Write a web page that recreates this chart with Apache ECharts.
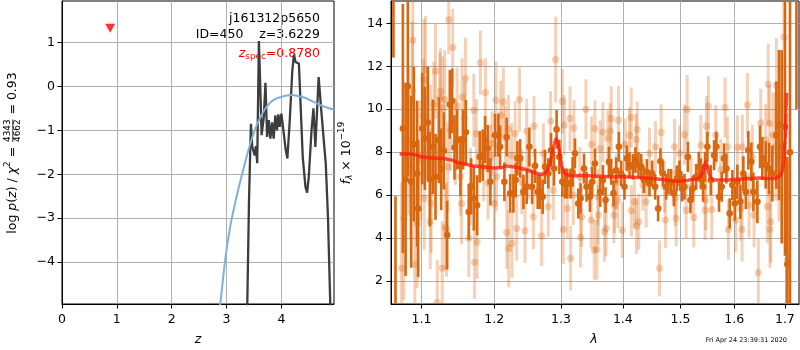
<!DOCTYPE html>
<html>
<head>
<meta charset="utf-8">
<script src="https://cdn.jsdelivr.net/npm/echarts@6/dist/echarts.min.js"></script>
<style>
  html, body { margin: 0; padding: 0; background: #ffffff; }
  #chart { width: 800px; height: 350px; }
</style>
</head>
<body>
<div id="chart"></div>
<script>
// ---- Redshift probability panel ----
const zTicks = [0, 1, 2, 3, 4];
const logpTicks = [-4, -3, -2, -1, 0, 1];
const priorZ    = [2.85, 2.90, 2.95, 3.00, 3.05, 3.10, 3.20, 3.30, 3.40, 3.50, 3.60, 3.70, 3.80, 3.90, 4.00, 4.10, 4.20, 4.30, 4.40, 4.50, 4.60, 4.70, 4.80, 4.90, 4.96];
const priorLogP = [-5.35, -4.80, -4.22, -3.72, -3.32, -2.98, -2.42, -1.92, -1.45, -1.05, -0.75, -0.52, -0.37, -0.28, -0.24, -0.21, -0.20, -0.22, -0.25, -0.30, -0.36, -0.42, -0.47, -0.51, -0.53];
const pzZ    = [3.37, 3.41, 3.445, 3.47, 3.50, 3.515, 3.535, 3.56, 3.59, 3.605, 3.64, 3.68, 3.71, 3.74, 3.77, 3.80, 3.83, 3.86, 3.89, 3.92, 3.945, 3.97, 4.00, 4.03, 4.08, 4.11, 4.15, 4.20, 4.23, 4.26, 4.29, 4.32, 4.35, 4.39, 4.44, 4.47, 4.50, 4.55, 4.585, 4.62, 4.68, 4.73, 4.76, 4.81, 4.85, 4.89, 4.92];
const pzLogP = [-5.6, -2.6, -0.85, -1.38, -1.34, -1.57, -1.36, -1.75, 1.03, 0.45, -1.11, -0.70, 0.08, -1.15, -0.77, -1.19, -0.82, -1.19, -0.66, -1.00, -0.64, -0.92, -0.62, -0.92, -1.45, -1.64, -0.85, 0.36, 0.72, 0.55, 0.59, 0.52, -0.39, -1.61, -2.29, -2.42, -2.06, -1.00, -0.50, -1.38, 0.21, -0.58, -0.62, -1.76, -2.97, -4.86, -7.0];
const zSpec = 0.878;
const zSpecMarkerLogP = 1.32;

// ---- Spectrum panel ----
const lambdaTicks = [1.1, 1.2, 1.3, 1.4, 1.5, 1.6, 1.7];
const fluxTicks = [2, 4, 6, 8, 10, 12, 14];
// [lambda, f_lambda, error]
const lightPoints = [
  [1.1365,14.17,1.6],[1.0886,13.21,3.0],[1.1419,12.87,1.8],[1.1804,12.17,1.5],[1.1053,11.85,2.5],[1.1186,11.77,2.2],
  [1.1595,11.43,1.9],[1.1030,11.40,2.8],[1.0880,10.88,3.2],[1.1253,10.84,2.0],[1.1875,10.78,1.6],[1.1244,10.54,2.1],
  [1.1311,10.45,2.3],[1.1164,10.22,2.0],[1.1479,10.14,1.8],[1.1284,10.06,2.4],[1.1025,9.72,2.6],[1.1580,9.57,1.7],
  [1.1119,8.94,2.2],[1.1388,9.02,1.9],[1.1456,8.48,2.0],[1.1748,8.87,1.6],[1.1970,8.40,1.5],[1.0834,8.56,3.5],
  [1.1351,7.32,2.1],[1.1913,6.57,1.7],[1.1035,5.85,2.4],[1.1128,5.61,2.3],[1.1539,5.61,1.9],[1.0770,4.92,3.8],
  [1.1115,4.76,2.2],[1.0943,4.68,3.0],[1.1315,4.50,2.0],[1.1334,4.40,2.2],[1.1641,3.99,1.8],[1.1757,3.80,1.7],
  [1.0740,2.59,4.0],[1.0912,2.78,3.2],[1.1276,2.59,2.2],[1.1720,2.87,1.7],[1.1209,0.99,2.0],[1.1525,6.85,1.8],
  [1.1664,6.39,1.8],[1.1850,7.32,1.6],[1.1946,7.78,1.5],[1.0987,7.63,2.8],[1.0856,7.32,3.4],[1.1711,9.95,1.7],
  [1.1548,10.57,1.8],
  [1.2917,12.31,2.0],[1.2027,10.42,1.8],[1.2133,10.34,1.6],[1.2369,10.45,1.5],[1.3021,10.37,1.5],[1.2094,9.72,1.6],
  [1.2588,9.21,1.4],[1.2477,8.98,1.5],[1.2207,9.07,1.6],[1.2305,8.87,1.5],[1.2840,9.44,1.4],[1.3141,9.57,1.5],
  [1.3052,9.26,1.4],[1.3204,9.13,1.3],[1.3395,10.00,1.4],[1.3540,9.10,1.3],[1.3485,8.37,1.3],[1.2163,8.64,1.5],
  [1.2255,7.86,1.5],[1.2729,7.94,1.4],[1.2502,7.32,1.5],[1.2035,6.85,1.6],[1.2404,6.62,1.5],[1.3299,6.85,1.4],
  [1.2881,6.23,1.4],[1.3193,6.00,1.4],[1.2003,5.61,1.7],[1.2577,4.99,1.5],[1.3037,4.40,1.6],[1.2329,4.45,1.5],
  [1.2452,4.34,1.5],[1.2182,4.27,1.7],[1.2702,4.09,1.4],[1.3309,4.03,1.4],[1.2260,3.75,1.6],[1.2212,3.52,1.8],
  [1.3151,3.06,1.5],[1.3529,3.44,1.4],[1.3099,5.38,1.4],[1.3325,4.99,1.4],[1.2804,5.46,1.4],[1.3480,4.84,1.3],
  [1.5121,9.99,1.6],[1.3807,9.57,1.5],[1.3927,9.49,1.6],[1.4141,9.61,1.4],[1.3670,8.94,1.4],[1.3790,8.98,1.3],
  [1.4243,9.06,1.3],[1.4657,8.92,1.3],[1.5073,8.82,1.4],[1.4112,8.79,1.3],[1.4226,8.59,1.2],[1.3752,8.64,1.3],
  [1.4040,8.37,1.2],[1.4558,8.25,1.2],[1.4894,8.25,1.3],[1.3626,8.17,1.3],[1.4454,7.94,1.2],[1.4983,7.94,1.3],
  [1.3890,6.62,1.3],[1.4340,6.47,1.2],[1.4716,6.39,1.2],[1.5194,6.39,1.3],[1.3589,5.92,1.3],[1.4906,5.85,1.3],
  [1.4197,5.69,1.2],[1.4397,5.69,1.2],[1.3918,5.77,1.3],[1.3862,5.53,1.3],[1.3851,5.07,1.3],[1.4145,5.27,1.2],
  [1.5103,5.30,1.3],[1.4924,4.92,1.3],[1.5243,4.96,1.4],[1.3595,5.07,1.4],[1.4734,4.84,1.3],[1.4271,4.76,1.3],
  [1.3723,4.45,1.3],[1.4230,4.56,1.3],[1.3695,4.29,1.4],[1.3990,4.37,1.3],[1.4629,2.59,1.3],[1.3573,3.47,1.4],
  [1.6253,10.19,1.5],[1.6665,11.16,1.9],[1.6827,11.12,2.2],[1.5512,10.14,1.4],[1.5824,10.08,1.4],[1.5475,9.21,1.4],
  [1.6515,9.36,1.6],[1.6693,9.33,1.8],[1.5649,8.79,1.4],[1.6614,8.56,1.7],[1.5868,8.25,1.4],[1.6156,8.25,1.5],
  [1.6059,8.22,1.5],[1.6760,8.79,2.0],[1.5371,8.33,1.4],[1.6351,7.78,1.5],[1.5743,7.20,1.4],[1.5462,5.77,1.4],
  [1.5574,5.33,1.4],[1.5450,5.30,1.4],[1.6286,5.53,1.5],[1.6646,5.46,1.7],[1.6125,5.38,1.5],[1.6383,5.07,1.5],
  [1.6029,4.84,1.5],[1.6151,4.40,1.5],[1.5887,4.40,1.4],[1.6699,4.40,1.8],[1.6713,4.76,1.9],[1.6468,2.39,1.6],
  [1.6981,13.36,4.0],[1.7049,2.98,4.5],[1.6815,8.25,2.5],[1.6880,7.78,3.0]
];
const darkPoints = [
  [1.0636,18.0,5.6],[1.0662,0.5,5.45],
  [1.0757,9.10,5.8],[1.0792,6.74,4.5],[1.0821,11.07,4.2],[1.0865,6.62,4.0],[1.0899,8.37,3.6],[1.0943,7.00,3.4],
  [1.0956,5.38,3.2],[1.1009,9.10,2.6],[1.1044,8.64,2.4],[1.1083,9.38,2.6],[1.1110,6.74,2.2],[1.1150,8.25,2.2],
  [1.1186,6.85,2.0],[1.1230,8.56,2.0],[1.1262,7.20,1.9],[1.1297,8.06,1.8],[1.1343,4.14,1.6],[1.1379,10.22,1.6],
  [1.1411,10.39,1.5],[1.1443,8.22,1.5],[1.1479,8.59,1.4],[1.1525,7.35,1.4],[1.1562,8.59,1.4],[1.1599,8.93,1.5],
  [1.1641,5.22,1.3],[1.1674,6.42,1.3],[1.1711,5.85,1.5],[1.1757,5.53,1.4],[1.1794,7.78,1.2],[1.1836,7.86,1.2],
  [1.1870,8.59,1.1],[1.1907,8.17,1.1],[1.1946,6.62,1.1],
  [1.2013,8.79,1.0],[1.2061,8.79,1.0],[1.2085,8.25,1.0],[1.2148,6.62,0.9],[1.2182,8.71,0.9],[1.2232,6.08,0.9],
  [1.2280,6.08,0.9],[1.2314,6.70,0.8],[1.2339,7.71,0.8],[1.2379,7.71,0.9],[1.2428,6.15,0.8],[1.2477,6.39,0.8],
  [1.2517,8.25,0.9],[1.2558,6.39,0.8],[1.2603,7.36,0.8],[1.2642,6.15,0.8],[1.2678,6.15,0.8],[1.2718,5.92,0.8],
  [1.2754,7.32,0.8],[1.2804,7.01,0.7],[1.2846,8.09,0.8],[1.2892,7.24,0.8],[1.2932,9.06,0.9],[1.2975,7.78,0.8],
  [1.3021,6.62,0.7],[1.3063,6.54,0.7],[1.3099,6.54,0.7],[1.3151,6.54,0.7],[1.3182,7.08,0.7],[1.3220,7.94,0.7],
  [1.3272,5.61,0.7],[1.3309,5.85,0.7],[1.3364,7.24,0.7],[1.3405,6.39,0.7],[1.3459,5.92,0.7],[1.3496,6.62,0.7],
  [1.3540,7.47,0.7],
  [1.3626,6.15,0.7],[1.3670,6.70,0.7],[1.3713,5.77,0.6],[1.3769,7.55,0.7],[1.3807,7.08,0.6],[1.3845,6.08,0.6],
  [1.3890,7.16,0.6],[1.3934,8.25,0.7],[1.3973,7.01,0.6],[1.4028,6.39,0.6],[1.4068,7.71,0.6],[1.4112,7.40,0.6],
  [1.4170,7.32,0.6],[1.4214,7.63,0.6],[1.4265,7.40,0.6],[1.4311,7.32,0.6],[1.4357,6.70,0.6],[1.4409,7.08,0.6],
  [1.4454,6.54,0.6],[1.4501,7.01,0.6],[1.4553,6.39,0.6],[1.4605,5.38,0.6],[1.4645,7.58,0.6],[1.4688,7.01,0.6],
  [1.4746,6.39,0.6],[1.4787,6.62,0.6],[1.4835,6.62,0.6],[1.4883,6.08,0.6],[1.4937,6.78,0.6],[1.4983,7.01,0.6],
  [1.5031,6.31,0.6],[1.5073,6.39,0.6],[1.5134,7.78,0.7],[1.5181,5.77,0.6],[1.5225,6.31,0.6],[1.5285,6.85,0.6],
  [1.5334,7.32,0.7],
  [1.5371,7.01,0.7],[1.5413,6.39,0.7],[1.5450,7.32,0.7],[1.5493,8.25,0.7],[1.5556,6.70,0.7],[1.5617,7.86,0.7],
  [1.5660,8.25,0.7],[1.5711,5.92,0.7],[1.5761,6.39,0.7],[1.5805,7.71,0.7],[1.5849,7.24,0.7],[1.5913,5.15,0.7],
  [1.5963,6.47,0.7],[1.6009,5.61,0.8],[1.6059,6.62,0.8],[1.6117,5.69,0.8],[1.6175,7.01,0.8],[1.6222,6.15,0.8],
  [1.6272,8.09,0.9],[1.6331,7.55,0.9],[1.6370,6.15,0.9],[1.6449,5.69,1.0],[1.6501,8.25,1.0],[1.6547,7.71,1.0],
  [1.6614,7.40,1.1],[1.6680,7.24,1.2],[1.6746,7.01,1.3],[1.6827,8.79,2.5],[1.6880,9.26,3.5],[1.6935,8.25,4.5],
  [1.7002,9.18,6.0],[1.7049,2.78,5.0],[1.7104,8.0,12.0],[1.7237,22.0,12.0]
];
const modelLambda = [1.0715,1.080,1.088,1.095,1.100,1.110,1.120,1.130,1.140,1.150,1.160,1.170,1.180,1.190,1.200,1.210,1.218,1.225,1.235,1.245,1.255,1.262,1.268,1.273,1.278,1.282,1.286,1.289,1.2925,1.296,1.299,1.302,1.306,1.312,1.320,1.330,1.345,1.360,1.380,1.400,1.420,1.440,1.460,1.475,1.490,1.500,1.510,1.520,1.530,1.536,1.540,1.5435,1.5465,1.5495,1.553,1.557,1.562,1.570,1.590,1.610,1.630,1.650,1.665,1.678,1.688,1.694,1.698,1.7005,1.7025,1.7036];
const modelFlux   = [7.91,7.92,7.90,7.85,7.78,7.74,7.72,7.70,7.63,7.52,7.44,7.36,7.32,7.30,7.26,7.28,7.36,7.33,7.28,7.20,7.10,7.02,6.97,6.98,7.10,7.35,7.85,8.35,8.62,8.35,7.75,7.25,7.00,6.92,6.90,6.91,6.90,6.88,6.86,6.85,6.83,6.80,6.75,6.70,6.65,6.65,6.68,6.72,6.76,6.85,7.05,7.35,7.55,7.35,6.95,6.75,6.70,6.70,6.71,6.74,6.78,6.80,6.78,6.78,6.85,7.05,7.60,8.60,9.90,10.76];

const objectName = 'j161312p5650';
const objectInfo = 'ID=450    z=3.6229';
const zSpecText = '=0.8780';
const chi2Num = '4343', chi2Den = '4662', chi2Val = ' = 0.93';
const timestamp = 'Fri Apr 24 23:39:31 2020';

// ---- styling ----
const FAMILY = '"DejaVu Sans", sans-serif';
const FS = 12.5;       // main text size
const FS_SMALL = 8.8;  // sub/superscripts
const GRID_COLOR = '#b0b0b0';
const ORANGE = '#d9670f';

const measureCtx = document.createElement('canvas').getContext('2d');
function fontOf(size, italic) { return (italic ? 'italic ' : '') + size + 'px ' + FAMILY; }
function textWidth(t, size, italic) { measureCtx.font = fontOf(size, italic); return measureCtx.measureText(t).width; }
function textEl(t, x, y, size, italic, align, color) {
  return {
    type: 'text', x: x, y: y, silent: true,
    style: {
      text: t, font: fontOf(size, italic), fill: color,
      align: align, textAlign: align, verticalAlign: 'middle', textVerticalAlign: 'middle'
    }
  };
}
// Lays out a run of text pieces (with sub/superscripts and stacked fractions)
function mathRun(parts, x, y, opts) {
  const color = opts.color || '#000';
  let cx = 0;
  const kids = [];
  parts.forEach(function (p) {
    if (p.frac) {
      const w = Math.max(textWidth(p.frac[0], FS_SMALL), textWidth(p.frac[1], FS_SMALL));
      kids.push(textEl(p.frac[0], cx + 1 + w / 2, -5, FS_SMALL, false, 'center', color));
      kids.push(textEl(p.frac[1], cx + 1 + w / 2, 5.5, FS_SMALL, false, 'center', color));
      kids.push({ type: 'line', silent: true, shape: { x1: cx + 1, y1: 0.3, x2: cx + 1 + w, y2: 0.3 }, style: { stroke: color, lineWidth: 0.8 } });
      cx += w + 2;
    } else {
      const size = p.small ? FS_SMALL : FS;
      kids.push(textEl(p.text, cx, p.dy || 0, size, !!p.italic, 'left', color));
      cx += textWidth(p.text, size, !!p.italic);
    }
  });
  const shift = opts.align === 'right' ? -cx : -cx / 2;
  return {
    type: 'group', x: x, y: y, rotation: opts.rotation || 0, silent: true,
    children: [{ type: 'group', x: shift, y: 0, children: kids }]
  };
}

function errorBars(points, xi, yi, color, opacity, z, barWidth, radius) {
  return {
    type: 'custom', xAxisIndex: xi, yAxisIndex: yi, z: z, clip: true, silent: true,
    data: points,
    renderItem: function (params, api) {
      const x = api.value(0), y = api.value(1), e = api.value(2);
      const hi = api.coord([x, y + e]);
      const lo = api.coord([x, y - e]);
      const c = api.coord([x, y]);
      return {
        type: 'group',
        children: [
          { type: 'line', shape: { x1: hi[0], y1: hi[1], x2: lo[0], y2: lo[1] }, style: { stroke: color, lineWidth: barWidth, opacity: opacity } },
          { type: 'circle', shape: { cx: c[0], cy: c[1], r: radius }, style: { fill: color, opacity: opacity } }
        ]
      };
    }
  };
}

const minus = function (v) { return v < 0 ? '\u2212' + Math.abs(v) : String(v); };
const axisCommon = {
  axisLine: { onZero: false, lineStyle: { color: '#000', width: 1 } },
  axisTick: { show: true, inside: false, length: 4.5, lineStyle: { color: '#000', width: 1 } },
  splitLine: { show: true, lineStyle: { color: GRID_COLOR, width: 1 } },
  axisLabel: { color: '#000', fontFamily: FAMILY, fontSize: FS }
};
function axis(extra) {
  const a = JSON.parse(JSON.stringify(axisCommon));
  Object.keys(extra).forEach(function (k) {
    if (a[k] && typeof extra[k] === 'object') Object.assign(a[k], extra[k]); else a[k] = extra[k];
  });
  return a;
}

const chart = echarts.init(document.getElementById('chart'), null, { renderer: 'canvas' });
const option = {
  animation: false,
  backgroundColor: '#ffffff',
  grid: [
    { left: 62, top: 1, width: 272, height: 303, show: true, borderColor: '#000', borderWidth: 1, backgroundColor: 'transparent' },
    { left: 391, top: 1, width: 408, height: 303, show: true, borderColor: '#000', borderWidth: 1, backgroundColor: 'transparent' }
  ],
  xAxis: [
    axis({ gridIndex: 0, type: 'value', min: 0, max: 4.96,
      axisLabel: { customValues: zTicks, margin: 9, formatter: minus },
      axisTick: { customValues: zTicks } }),
    axis({ gridIndex: 1, type: 'log', logBase: 10, min: 1.0605, max: 1.729,
      axisLabel: { customValues: lambdaTicks, margin: 9, formatter: function (v) { return (+v).toFixed(1); } },
      axisTick: { customValues: lambdaTicks }, minorTick: { show: false }, minorSplitLine: { show: false } })
  ],
  yAxis: [
    axis({ gridIndex: 0, type: 'value', min: -4.95, max: 1.94,
      axisLabel: { customValues: logpTicks, margin: 7, formatter: minus },
      axisTick: { customValues: logpTicks } }),
    axis({ gridIndex: 1, type: 'value', min: 0.93, max: 15.04,
      axisLabel: { customValues: fluxTicks, margin: 8, formatter: minus },
      axisTick: { customValues: fluxTicks } })
  ],
  series: [
    { type: 'line', xAxisIndex: 0, yAxisIndex: 0, z: 3, showSymbol: false, clip: true, silent: true,
      data: pzZ.map(function (z, i) { return [z, pzLogP[i]]; }),
      lineStyle: { color: '#3d3d3d', width: 2.3 } },
    { type: 'line', xAxisIndex: 0, yAxisIndex: 0, z: 4, showSymbol: false, clip: true, silent: true, smooth: 0.3,
      data: priorZ.map(function (z, i) { return [z, priorLogP[i]]; }),
      lineStyle: { color: '#7fb0d6', width: 2 } },
    { type: 'scatter', xAxisIndex: 0, yAxisIndex: 0, z: 5, silent: true,
      data: [[zSpec, zSpecMarkerLogP]], symbol: 'triangle', symbolRotate: 180, symbolSize: [10, 9],
      itemStyle: { color: '#ff0000' } },
    errorBars(lightPoints, 1, 1, ORANGE, 0.3, 2, 3, 3.6),
    errorBars(darkPoints, 1, 1, ORANGE, 1, 3, 2.6, 3.3),
    { type: 'line', xAxisIndex: 1, yAxisIndex: 1, z: 6, showSymbol: false, clip: true, silent: true,
      smooth: 0.2, smoothMonotone: 'x',
      data: modelLambda.map(function (l, i) { return [l, modelFlux[i]]; }),
      lineStyle: { color: 'rgba(255,30,10,0.78)', width: 3.5 } }
  ],
  graphic: {
    elements: [
      textEl(objectName, 320, 19, FS, false, 'right', '#000'),
      textEl(objectInfo, 320, 35, FS, false, 'right', '#000'),
      mathRun([
        { text: 'z', italic: true },
        { text: 'spec', small: true, dy: 3 },
        { text: zSpecText }
      ], 320, 54, { align: 'right', color: '#ff0000' }),
      mathRun([
        { text: 'log ' }, { text: 'p', italic: true }, { text: '(' }, { text: 'z', italic: true },
        { text: ') / ' }, { text: '\u03c7', italic: true }, { text: '2', small: true, dy: -5 },
        { text: ' = ' }, { frac: [chi2Num, chi2Den] }, { text: chi2Val }
      ], 12.5, 153, { rotation: Math.PI / 2 }),
      mathRun([{ text: 'z', italic: true }], 198, 340, {}),
      mathRun([
        { text: 'f', italic: true }, { text: '\u03bb', italic: true, small: true, dy: 3 },
        { text: ' \u00d7 10' }, { text: '\u221219', small: true, dy: -5 }
      ], 346.5, 153, { rotation: Math.PI / 2 }),
      mathRun([{ text: '\u03bb', italic: true }], 594, 340, {}),
      textEl(timestamp, 787, 340, 6.5, false, 'right', '#000')
    ]
  }
};
chart.setOption(option);
</script>
</body>
</html>
